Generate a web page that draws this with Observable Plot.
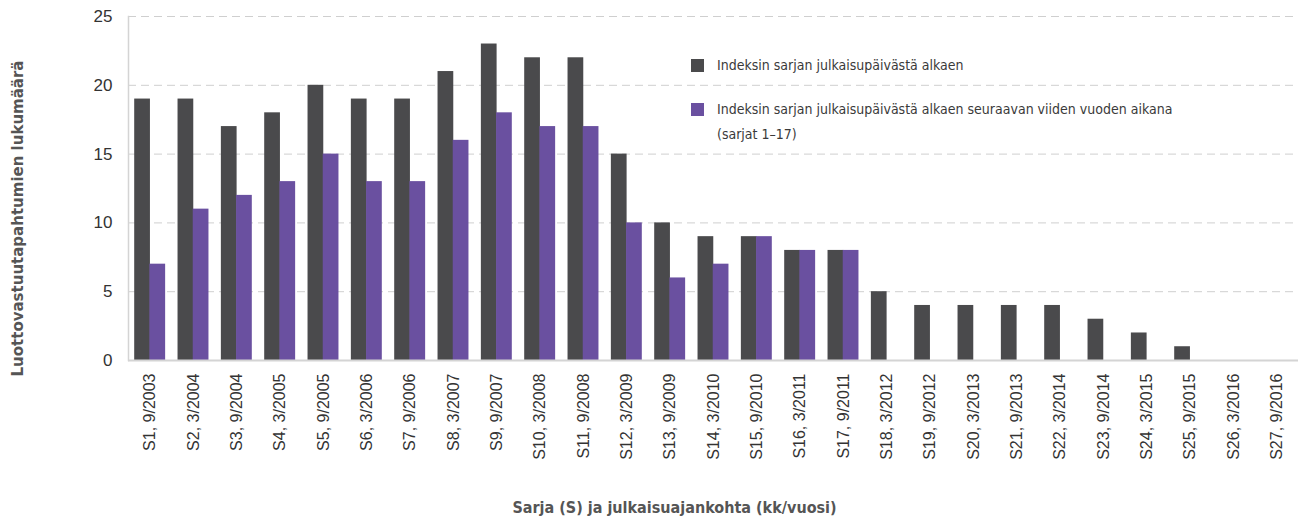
<!DOCTYPE html>
<html>
<head>
<meta charset="utf-8">
<script src="https://cdn.jsdelivr.net/npm/d3@7"></script>
<script src="https://cdn.jsdelivr.net/npm/@observablehq/plot@0.6"></script>
<style>
  body { margin: 0; background: #fff; }
  #wrap { position: relative; width: 1309px; height: 524px; }
  .legend { position: absolute; left: 691px; top: 0; font-family: "DejaVu Sans Condensed", "Liberation Sans Narrow", sans-serif; font-size: 14px; color: #3a3a3a; line-height: 25px; }
  .legend .sw { position: absolute; left: 0; width: 13px; height: 13px; }
  .legend .tx { position: absolute; left: 26px; white-space: nowrap; }
</style>
</head>
<body>
<div id="wrap"></div>
<script>
const categories = ["S1, 9/2003","S2, 3/2004","S3, 9/2004","S4, 3/2005","S5, 9/2005","S6, 3/2006","S7, 9/2006","S8, 3/2007","S9, 9/2007","S10, 3/2008","S11, 9/2008","S12, 3/2009","S13, 9/2009","S14, 3/2010","S15, 9/2010","S16, 3/2011","S17, 9/2011","S18, 3/2012","S19, 9/2012","S20, 3/2013","S21, 9/2013","S22, 3/2014","S23, 9/2014","S24, 3/2015","S25, 9/2015","S26, 3/2016","S27, 9/2016"];
const seriesAll = [19,19,17,18,20,19,19,21,23,22,22,15,10,9,9,8,8,5,4,4,4,4,3,2,1,0,0];
const seriesFiveYear = [7,11,12,13,15,13,13,16,18,17,17,10,6,7,9,8,8];
const seriesNames = ["Indeksin sarjan julkaisupäivästä alkaen", "Indeksin sarjan julkaisupäivästä alkaen seuraavan viiden vuoden aikana", "(sarjat 1–17)"];
const yTicks = [0,5,10,15,20,25];
const xTitle = "Sarja (S) ja julkaisuajankohta (kk/vuosi)";
const yTitle = "Luottovastuutapahtumien lukumäärä";
const colors = ["#4a4a4c", "#6a50a0"];

const dataAll = categories.map((c, i) => ({cat: c, v: seriesAll[i]}));
const dataFive = seriesFiveYear.map((v, i) => ({cat: categories[i], v}));
const tickFont = "'Liberation Sans', Arial, sans-serif";

const chart = Plot.plot({
  width: 1309,
  height: 524,
  marginLeft: 128,
  marginRight: 11,
  marginTop: 16,
  marginBottom: 164,
  style: {fontFamily: tickFont, fontSize: "16px", color: "#333", background: "#fff"},
  x: {domain: categories, padding: 0, round: false},
  y: {domain: [0, 25]},
  marks: [
    Plot.gridY(yTicks.filter(d => d > 0), {stroke: "#cfcfcf", strokeOpacity: 1, strokeDasharray: "8,5"}),
    Plot.barY(dataAll, {x: "cat", y: "v", fill: colors[0], insetLeft: 6.2, insetRight: 21.4}),
    Plot.barY(dataFive, {x: "cat", y: "v", fill: colors[1], insetLeft: 21.4, insetRight: 6.2}),
    Plot.frame({anchor: "left", stroke: "#d4d4d4", strokeWidth: 1.5}),
    Plot.ruleY([0], {stroke: "#d4d4d4", strokeWidth: 2}),
    Plot.axisY(yTicks, {tickSize: 0, tickPadding: 16, label: null, fontSize: 17, fontFamily: tickFont, fill: "#333"}),
    Plot.axisX({tickSize: 0, tickRotate: -90, tickPadding: 13, label: null, fontSize: 16, fontFamily: tickFont, fill: "#333"}),
    Plot.text([xTitle], {frameAnchor: "bottom", dx: -39, dy: 152, fontFamily: "'DejaVu Sans Condensed', 'Liberation Sans Narrow', sans-serif", fontWeight: "bold", fontSize: 16, fill: "#555"}),
    Plot.text([yTitle], {frameAnchor: "left", textAnchor: "middle", dx: -110, dy: 30, rotate: -90, fontFamily: "'DejaVu Sans', sans-serif", fontWeight: "bold", fontSize: 15, fill: "#555"})
  ]
});
const wrap = document.getElementById("wrap");
wrap.appendChild(chart);

const legend = document.createElement("div");
legend.className = "legend";
legend.innerHTML = `
  <div class="sw" style="top:59px;background:${colors[0]}"></div>
  <div class="tx" style="top:53px">${seriesNames[0]}</div>
  <div class="sw" style="top:103px;background:${colors[1]}"></div>
  <div class="tx" style="top:97px">${seriesNames[1]}<br>${seriesNames[2]}</div>
`;
wrap.appendChild(legend);
</script>
</body>
</html>
